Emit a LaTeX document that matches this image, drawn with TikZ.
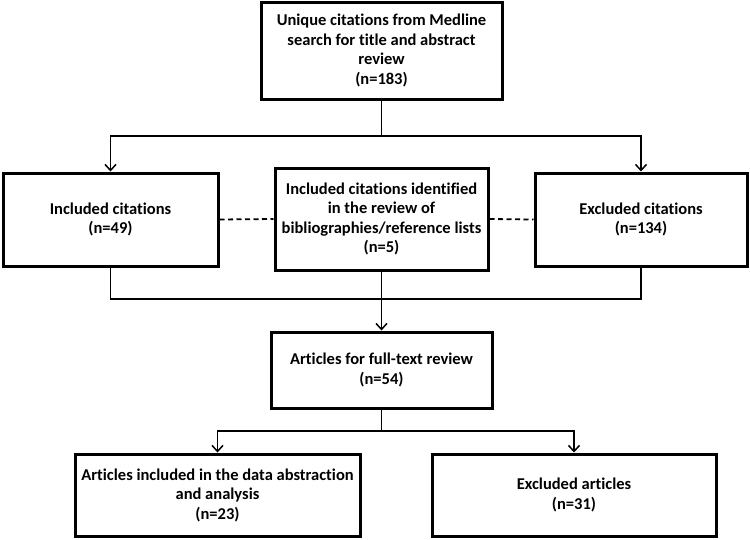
\documentclass[tikz,border=0pt]{standalone}
\usepackage{fontspec}
\setmainfont{Carlito}[Ligatures=NoCommon]
\usetikzlibrary{arrows.meta}
\begin{document}
\begin{tikzpicture}[x=1pt,y=-1pt,
  box/.style={draw=black,line width=3pt,fill=white,align=center,inner sep=0pt,
    font=\fontsize{16.5}{19.5}\selectfont\bfseries},
  conn/.style={draw=black,line width=1.8pt},
  arr/.style={conn,-{Straight Barb[length=6pt,width=11pt,line width=1.5pt]}}]
\useasboundingbox[fill=white] (0,0) rectangle (750,539);
\node[box,minimum width=241pt,minimum height=97pt] (top) at (381.5,50.5)
  {Unique citations from Medline\\search for title and abstract\\review\\(n=183)};
\node[box,minimum width=215pt,minimum height=93pt] (inc) at (110.5,219.5)
  {Included citations\\(n=49)};
\node[box,minimum width=213pt,minimum height=102pt] (mid) at (381.5,219)
  {Included citations identified\\in the review of\\bibliographies/reference lists\\(n=5)};
\node[box,minimum width=212pt,minimum height=93pt] (exc) at (641,219.5)
  {Excluded citations\\(n=134)};
\node[box,minimum width=221pt,minimum height=76pt] (art) at (381.5,370)
  {Articles for full-text review\\(n=54)};
\node[box,minimum width=285pt,minimum height=82pt] (incart) at (217.5,495)
  {Articles included in the data abstraction\\and analysis\\(n=23)};
\node[box,minimum width=284pt,minimum height=82pt] (excart) at (574,495)
  {Excluded articles\\(n=31)};
\coordinate (j1) at (381.5,136);
\coordinate (j2) at (381.5,299);
\coordinate (j3) at (381.5,431);
\draw[conn] (top.south) -- (j1);
\draw[arr] (j1) -| (inc.north);
\draw[arr] (j1) -| (exc.north);
\draw[conn,dashed,dash pattern=on 5pt off 3.5pt] (inc.east) -- (mid.west);
\draw[conn,dashed,dash pattern=on 5pt off 3.5pt] (mid.east) -- (exc.west);
\draw[conn] (inc.south) |- (j2);
\draw[conn] (exc.south) |- (j2);
\draw[arr] (mid.south) -- (art.north);
\draw[conn] (art.south) -- (j3);
\draw[arr] (j3) -| (incart.north);
\draw[arr] (j3) -| (excart.north);
\end{tikzpicture}
\end{document}
